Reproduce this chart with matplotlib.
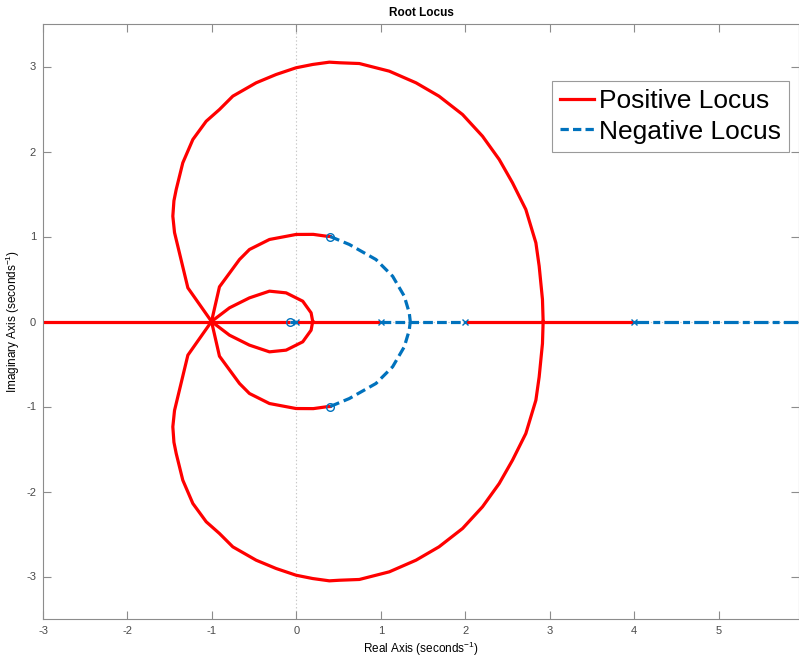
import matplotlib
matplotlib.use('Agg')
import matplotlib.pyplot as plt
from matplotlib.lines import Line2D

plt.rcParams['font.family'] = ['Liberation Sans', 'DejaVu Sans']
plt.rcParams['mathtext.fontset'] = 'custom'
plt.rcParams['mathtext.rm'] = 'Liberation Sans'
plt.rcParams['mathtext.it'] = 'Liberation Sans:italic'
plt.rcParams['lines.scale_dashes'] = False

# ---- data (upper halves of the complex branches; lower halves are conjugates) ----
big_x = [-1.005, -1.285, -1.443, -1.463, -1.450, -1.423, -1.345, -1.226, -1.068, -0.911, -0.753,
         -0.477, -0.240, -0.004, 0.193, 0.390, 0.509, 0.745, 1.100, 1.416, 1.688,
         1.967, 2.203, 2.401, 2.558, 2.716, 2.835, 2.874, 2.913, 2.921]
big_y = [0.0, 0.396, 1.047, 1.239, 1.420, 1.553, 1.867, 2.141, 2.356, 2.494, 2.651,
         2.808, 2.906, 2.985, 3.024, 3.051, 3.044, 3.035, 2.945, 2.808, 2.651,
         2.435, 2.180, 1.906, 1.632, 1.318, 0.926, 0.651, 0.259, 0.0]

mid_x = [-1.005, -0.911, -0.674, -0.556, -0.319, -0.004, 0.200, 0.351, 0.400]
mid_y = [0.0, 0.408, 0.729, 0.847, 0.965, 1.024, 1.025, 1.004, 1.000]

small_x = [-1.005, -0.792, -0.556, -0.319, -0.122, 0.075, 0.174, 0.193]
small_y = [0.0, 0.161, 0.278, 0.357, 0.337, 0.239, 0.102, 0.0]

neg_arc_x = [0.400, 0.627, 0.942, 1.139, 1.277, 1.336, 1.348]
neg_arc_y = [1.000, 0.906, 0.729, 0.533, 0.298, 0.102, 0.0]

pos_real_segments = [(-3.0, -0.08), (0.0, 1.0), (2.0, 4.0)]
neg_real_segments = [(-0.08, 0.0), (1.0, 2.0)]
neg_real_tail = (4.0, 5.95)

poles = [0.0, 1.0, 2.0, 4.0]
zeros_re = [-0.08, 0.4, 0.4]
zeros_im = [0.0, 1.0, -1.0]

xticks = [-3, -2, -1, 0, 1, 2, 3, 4, 5]
yticks = [-3, -2, -1, 0, 1, 2, 3]

RED = '#FF0000'
BLUE = '#0072BD'
LW = 2.3

fig = plt.figure(figsize=(7.99, 6.6), dpi=100)
ax = fig.add_axes([43/799, 41/660, 756/799, 595/660])

ax.axvline(0, color='#c8c8c8', lw=0.8, ls=':', zorder=0)
ax.axhline(0, color='#c8c8c8', lw=0.8, ls=':', zorder=0)

# positive locus
for a, b in pos_real_segments:
    ax.plot([a, b], [0, 0], color=RED, lw=LW, solid_capstyle='butt', zorder=2)
for xs, ys in [(big_x, big_y), (mid_x, mid_y), (small_x, small_y)]:
    ax.plot(xs, ys, color=RED, lw=LW, zorder=3)
    ax.plot(xs, [-v for v in ys], color=RED, lw=LW, zorder=3)

# negative locus
for a, b in neg_real_segments:
    ax.plot([a, b], [0, 0], color=BLUE, lw=LW, dashes=(7, 3), zorder=2)
ax.plot(list(neg_real_tail), [0, 0], color=BLUE, lw=LW, dashes=(10.5, 3, 5, 3), zorder=2)
ax.plot(neg_arc_x, neg_arc_y, color=BLUE, lw=LW, dashes=(7, 3.5), zorder=3)
ax.plot(neg_arc_x, [-v for v in neg_arc_y], color=BLUE, lw=LW, dashes=(7, 3.5), zorder=3)

# poles and zeros
ax.plot(poles, [0]*len(poles), ls='none', marker='x', ms=5, mew=1.0, color=BLUE, zorder=4)
ax.plot(zeros_re, zeros_im, ls='none', marker='o', ms=5.5, mew=1.0, mfc='none', mec=BLUE, zorder=4)

ax.set_xlim(-3, 5.95)
ax.set_ylim(-3.5, 3.5)
ax.set_xticks(xticks)
ax.set_yticks(yticks)
ax.set_xticklabels([str(t) for t in xticks])
ax.set_yticklabels([str(t) for t in yticks])

SPINE = '#8c8c8c'
for s in ax.spines.values():
    s.set_color(SPINE)
    s.set_linewidth(0.8)
ax.tick_params(direction='in', length=5.5, width=0.8, color=SPINE, labelcolor='#4a4a4a',
               labelsize=8, top=True, right=True, pad=5)

ax.set_title('Root Locus', fontsize=8.5, fontweight='bold', pad=6)
ax.set_xlabel('Real Axis (seconds$^{-1}$)', fontsize=8.5, labelpad=3)
ax.set_ylabel('Imaginary Axis (seconds$^{-1}$)', fontsize=8.5, labelpad=3)

handles = [Line2D([0], [0], color=RED, lw=LW),
           Line2D([0], [0], color=BLUE, lw=LW, dashes=(6, 3))]
leg = ax.legend(handles, ['Positive Locus', 'Negative Locus'], loc='upper right',
                bbox_to_anchor=(0.987, 0.904), fontsize=19, frameon=True, fancybox=False,
                framealpha=1, edgecolor='#9a9a9a', handlelength=1.3, handletextpad=0.2,
                borderpad=0.3, labelspacing=0.25, borderaxespad=0)
leg.get_frame().set_linewidth(0.8)

fig.savefig('out.png', dpi=100)
